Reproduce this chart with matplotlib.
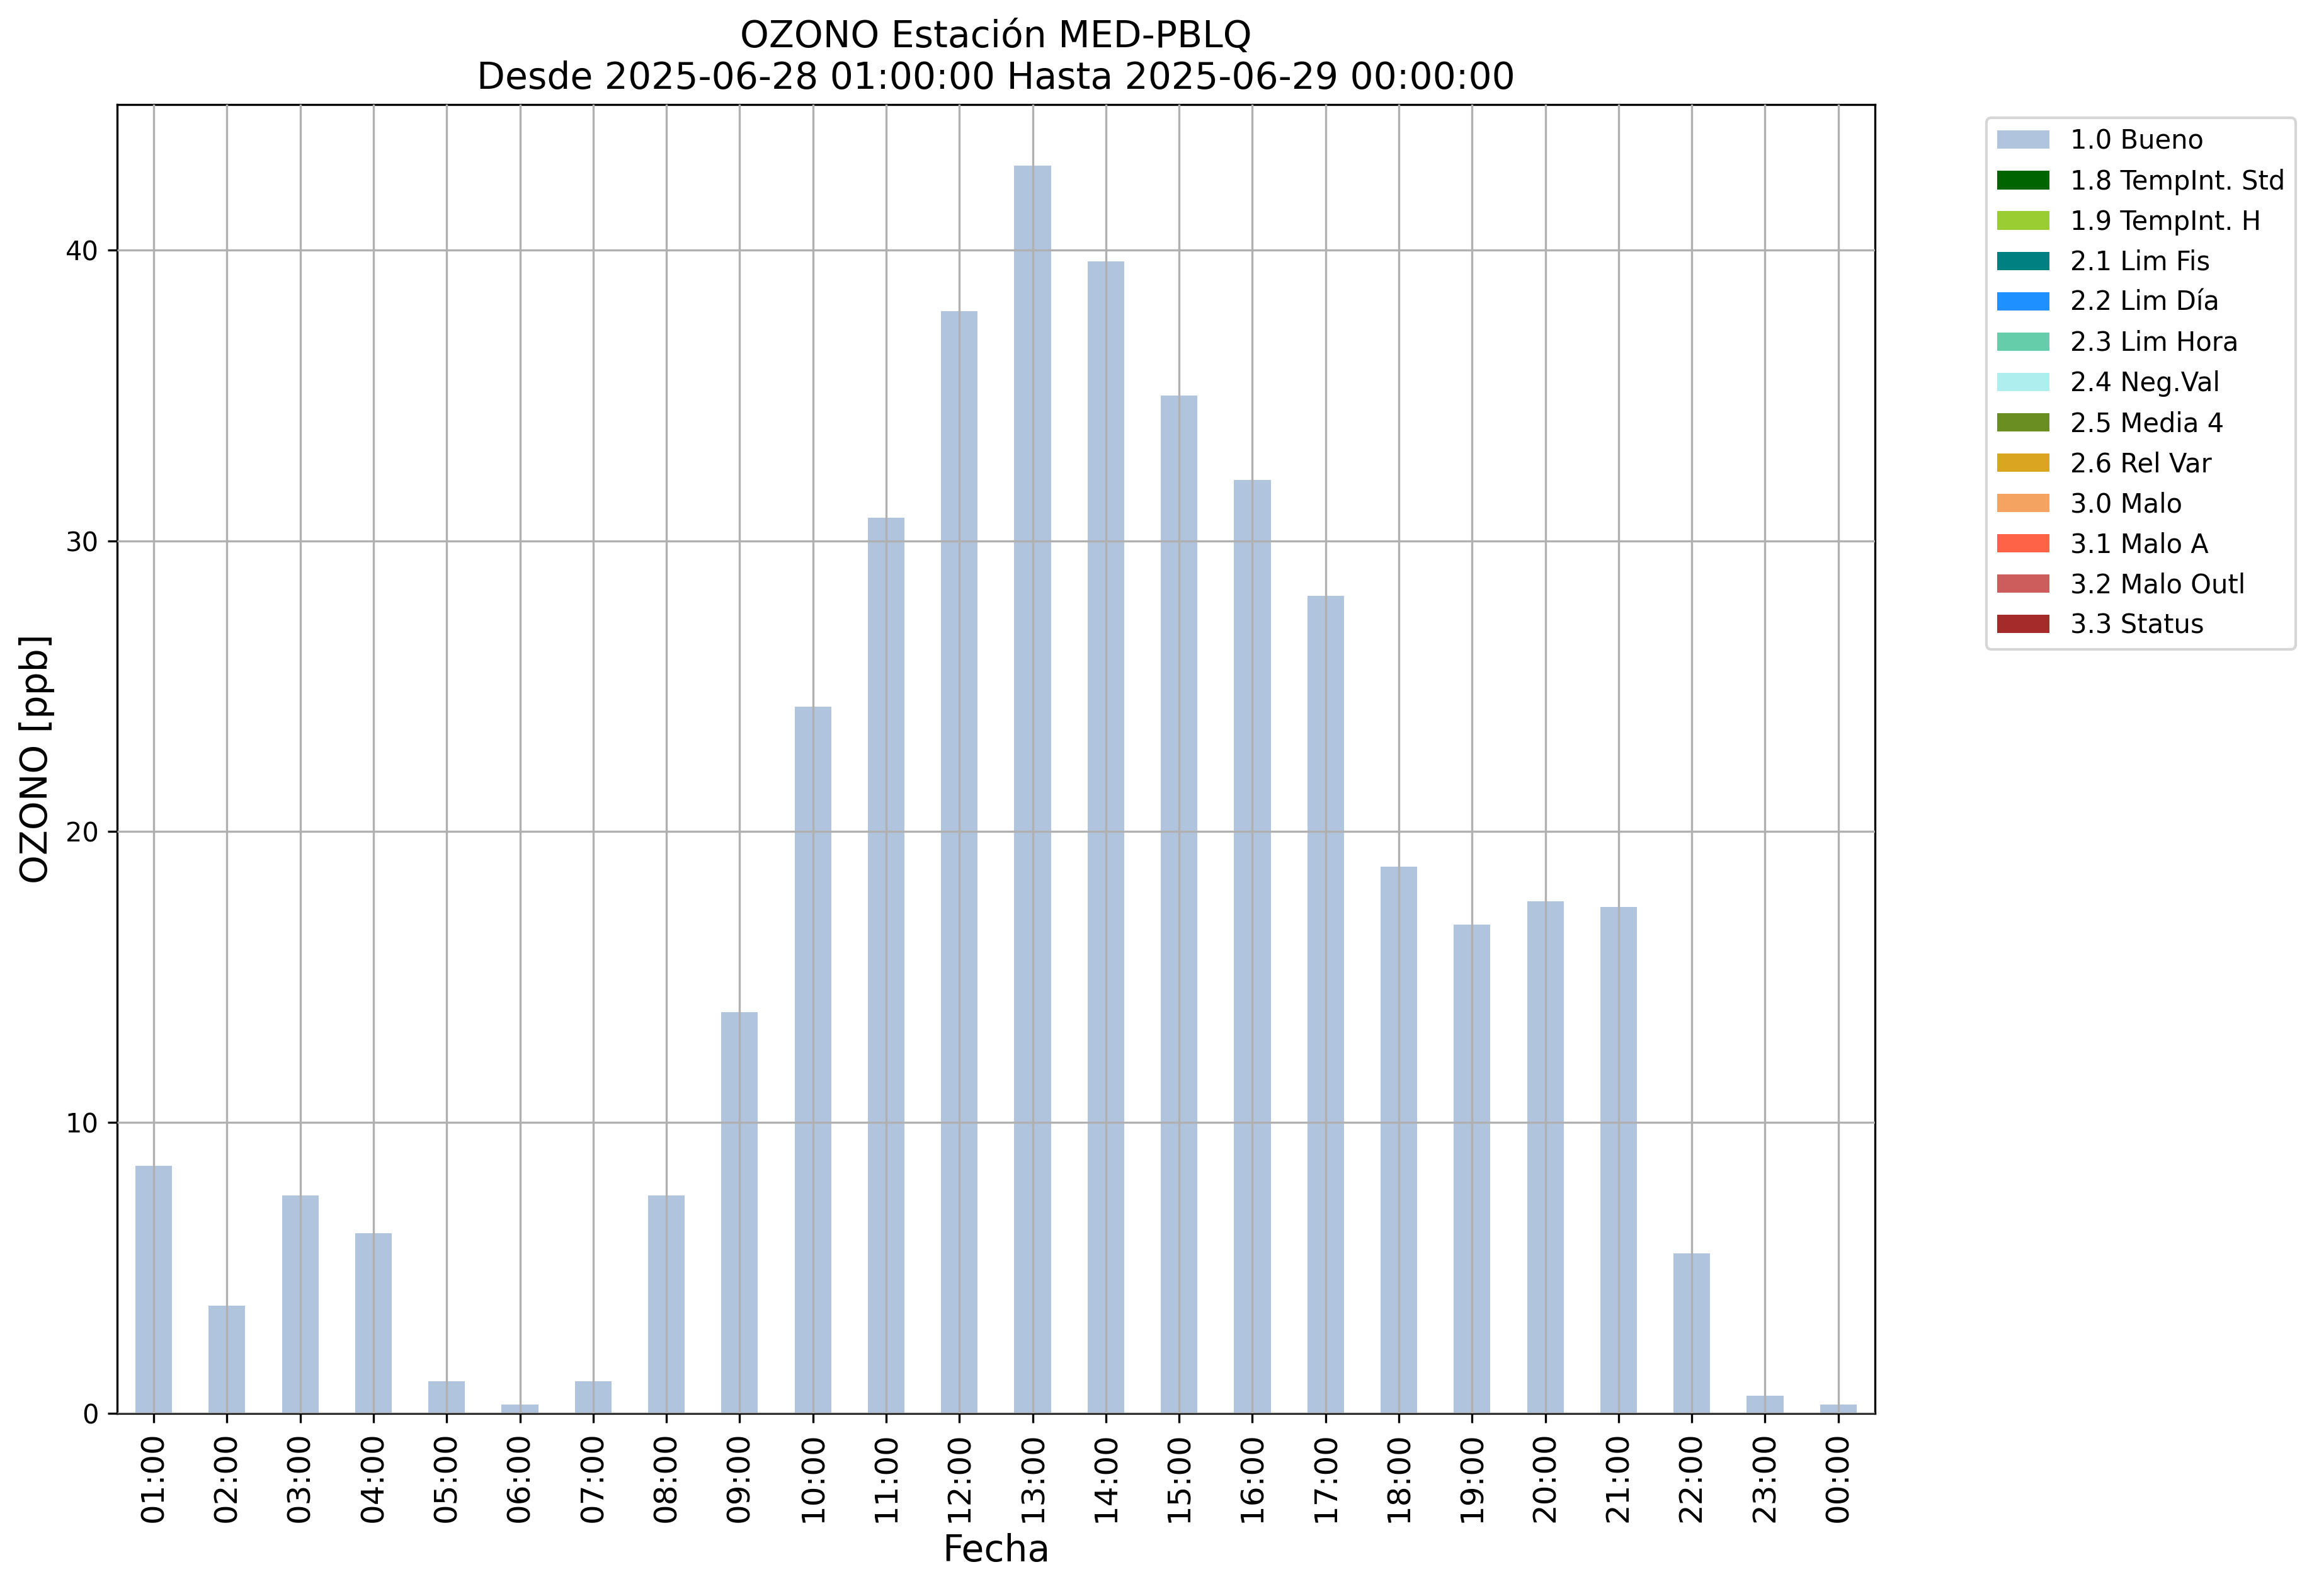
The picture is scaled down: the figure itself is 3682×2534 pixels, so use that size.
import numpy as np
import matplotlib
matplotlib.use("Agg")
import matplotlib.pyplot as plt
from matplotlib.ticker import MultipleLocator

# Datos: concentración horaria de ozono (ppb)
horas = ['01:00', '02:00', '03:00', '04:00', '05:00', '06:00', '07:00', '08:00',
         '09:00', '10:00', '11:00', '12:00', '13:00', '14:00', '15:00', '16:00',
         '17:00', '18:00', '19:00', '20:00', '21:00', '22:00', '23:00', '00:00']
ozono = [8.5, 3.7, 7.5, 6.2, 1.1, 0.3, 1.1, 7.5,
         13.8, 24.3, 30.8, 37.9, 42.9, 39.6, 35.0, 32.1,
         28.1, 18.8, 16.8, 17.6, 17.4, 5.5, 0.6, 0.3]

banderas = ['1.0 Bueno', '1.8 TempInt. Std', '1.9 TempInt. H', '2.1 Lim Fis',
            '2.2 Lim Día', '2.3 Lim Hora', '2.4 Neg.Val', '2.5 Media 4',
            '2.6 Rel Var', '3.0 Malo', '3.1 Malo A', '3.2 Malo Outl', '3.3 Status']
colores = ['lightsteelblue', 'darkgreen', 'yellowgreen', 'teal', 'dodgerblue',
           'mediumaquamarine', 'paleturquoise', 'olivedrab', 'goldenrod',
           'sandybrown', 'tomato', 'indianred', 'brown']

# %%
fig = plt.figure(figsize=(3682 / 300, 2534 / 300), dpi=300)
ax = fig.add_axes([0.0505, 0.1145, 0.758, 0.8200])

x = np.arange(len(horas))
base = np.zeros(len(horas))
for i, (bandera, color) in enumerate(zip(banderas, colores)):
    # solo la bandera "Bueno" tiene datos, el resto queda en cero
    valores = np.array(ozono) if i == 0 else np.zeros(len(horas))
    ax.bar(x, valores, width=0.5, bottom=base, color=color, label=bandera)
    base = base + valores

ax.set_xlim(-0.5, len(horas) - 0.5)
ax.set_ylim(0, 45)
ax.yaxis.set_major_locator(MultipleLocator(10))
ax.set_xticks(x)
ax.set_xticklabels(horas, rotation=90, fontsize=12)
ax.tick_params(axis='y', labelsize=10)
ax.set_axisbelow(False)
ax.grid(True, color='#b0b0b0', linewidth=0.8)

ax.set_xlabel('Fecha', fontsize=14)
ax.set_ylabel('OZONO [ppb]', fontsize=14)
ax.set_title('OZONO Estación MED-PBLQ\nDesde 2025-06-28 01:00:00 Hasta 2025-06-29 00:00:00',
             fontsize=14)
ax.legend(loc='upper left', bbox_to_anchor=(1.056, 1.0), fontsize=10, labelspacing=0.53)

plt.savefig('out.png', dpi=300)
